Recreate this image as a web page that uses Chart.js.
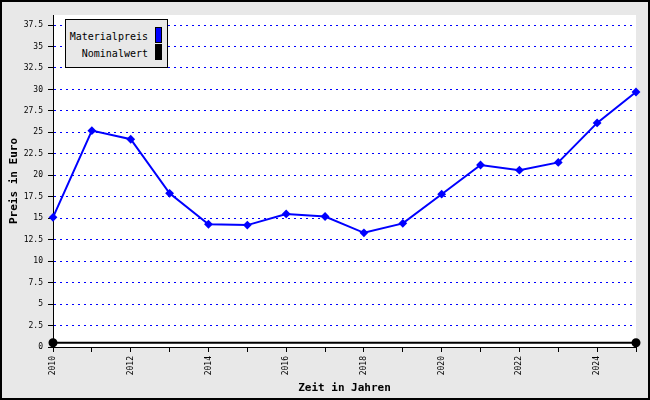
<!DOCTYPE html>
<html>
<head>
<meta charset="utf-8">
<script src="https://cdn.jsdelivr.net/npm/chart.js@4.4.1/dist/chart.umd.min.js"></script>
<style>
  html, body { margin: 0; padding: 0; background: #e8e8e8; }
  #wrap { position: relative; width: 650px; height: 400px; }
  canvas { display: block; }
  #legend {
    position: absolute; left: 65px; top: 19px; width: 103px; height: 49px;
    background: #e8e8e8; border: 1px solid #000; box-sizing: border-box;
    font-family: "DejaVu Sans Mono", monospace; font-size: 10px; color: #000;
  }
  .row { position: absolute; left: 0; right: 0; height: 16px; line-height: 16px; }
  .row span.t { position: absolute; right: 19px; top: 2px; white-space: nowrap; }
  .row span.s { position: absolute; right: 5px; top: 0; width: 7px; height: 16px; box-sizing: border-box; border: 1px solid #000; }
</style>
</head>
<body>
<div id="wrap">
  <canvas id="c" width="650" height="400"></canvas>
  <div id="legend"></div>
</div>
<script>
const years = [2010, 2011, 2012, 2013, 2014, 2015, 2016, 2017, 2018, 2019, 2020, 2021, 2022, 2023, 2024, 2025];
const materialpreis = [15.1, 25.2, 24.2, 17.9, 14.3, 14.2, 15.5, 15.2, 13.3, 14.4, 17.8, 21.2, 20.6, 21.5, 26.1, 29.7];
const nominalYears = [2010, 2025];
const nominalwert = [0.5, 0.5];
const seriesNames = ['Materialpreis', 'Nominalwert'];
const seriesColors = ['#0000ff', '#000000'];
const xTitle = 'Zeit in Jahren';
const yTitle = 'Preis in Euro';

// HTML legend
const legend = document.getElementById('legend');
seriesNames.forEach((n, i) => {
  const row = document.createElement('div');
  row.className = 'row';
  row.style.top = (7 + i * 17) + 'px';
  row.innerHTML = '<span class="t">' + n + '</span><span class="s" style="background:' + seriesColors[i] + '"></span>';
  legend.appendChild(row);
});

const bgPlugin = {
  id: 'bg',
  beforeDraw(chart) {
    const { ctx, chartArea: a } = chart;
    ctx.save();
    ctx.fillStyle = '#e8e8e8';
    ctx.fillRect(0, 0, chart.width, chart.height);
    ctx.fillStyle = '#ffffff';
    ctx.fillRect(a.left, a.top, a.right - a.left, a.bottom - a.top);
    ctx.restore();
  },
  afterDraw(chart) {
    const ctx = chart.ctx;
    ctx.save();
    ctx.strokeStyle = '#000';
    ctx.lineWidth = 2;
    ctx.strokeRect(1, 1, chart.width - 2, chart.height - 2);
    ctx.restore();
  }
};

const mono = '"DejaVu Sans Mono", monospace';

new Chart(document.getElementById('c'), {
  type: 'line',
  data: {
    datasets: [
      {
        label: seriesNames[0],
        data: years.map((y, i) => ({ x: y, y: materialpreis[i] })),
        borderColor: seriesColors[0],
        backgroundColor: seriesColors[0],
        borderWidth: 2,
        pointStyle: 'rectRot',
        pointRadius: 3,
        tension: 0,
        clip: false
      },
      {
        label: seriesNames[1],
        data: nominalYears.map((y, i) => ({ x: y, y: nominalwert[i] })),
        borderColor: seriesColors[1],
        backgroundColor: seriesColors[1],
        borderWidth: 2,
        pointStyle: 'circle',
        pointRadius: 3.5,
        tension: 0,
        clip: false
      }
    ]
  },
  options: {
    responsive: false,
    animation: false,
    devicePixelRatio: 1,
    layout: { padding: { left: 0, right: 14, top: 15, bottom: 0 } },
    plugins: { legend: { display: false }, tooltip: { enabled: false } },
    scales: {
      x: {
        type: 'linear',
        min: 2010,
        max: 2025,
        afterFit(s) { s.height = 53; },
        ticks: {
          stepSize: 1,
          autoSkip: false,
          maxRotation: 90,
          minRotation: 90,
          padding: 4,
          color: '#000',
          font: { family: mono, size: 8 },
          callback: v => (v % 2 === 0 ? String(v) : '')
        },
        grid: {
          drawOnChartArea: false,
          drawTicks: true,
          tickLength: 5,
          tickColor: '#000',
          tickWidth: 1
        },
        border: { display: true, color: '#000', width: 1 },
        title: {
          display: true,
          text: xTitle,
          color: '#000',
          font: { family: mono, size: 11, weight: 'bold' },
          padding: { top: 0, bottom: 5 }
        }
      },
      y: {
        type: 'linear',
        min: 0,
        max: 38.67,
        afterFit(s) { s.width = 53; },
        afterBuildTicks(s) {
          s.ticks = s.ticks.filter(t => Math.abs(t.value / 2.5 - Math.round(t.value / 2.5)) < 1e-6);
        },
        ticks: {
          stepSize: 2.5,
          padding: 5,
          color: '#000',
          font: { family: mono, size: 8 },
          callback: v => String(v)
        },
        grid: {
          color: ctx => (ctx.tick && ctx.tick.value === 0 ? 'rgba(0,0,0,0)' : '#0000ff'),
          lineWidth: 1,
          tickColor: '#000',
          tickBorderDash: [1, 0],
          tickLength: 5,
          tickWidth: 1
        },
        border: { display: true, color: '#000', width: 1, dash: [2, 4] },
        title: {
          display: true,
          text: yTitle,
          color: '#000',
          font: { family: mono, size: 11, weight: 'bold' },
          padding: { top: 8, bottom: 0 }
        }
      }
    }
  },
  plugins: [bgPlugin]
});
</script>
</body>
</html>
